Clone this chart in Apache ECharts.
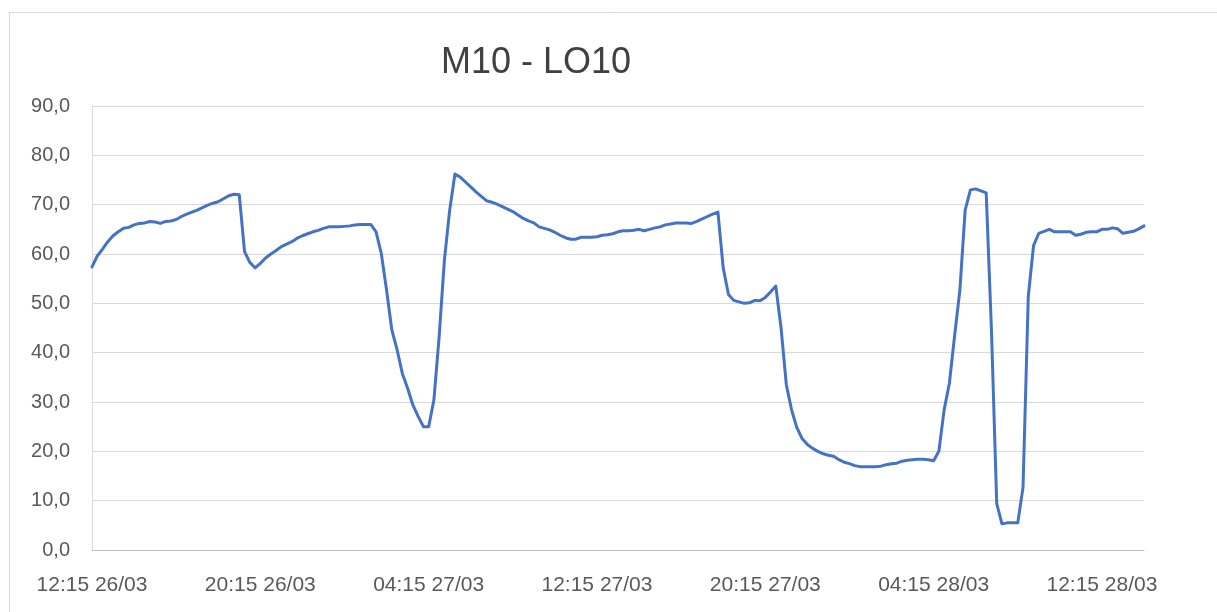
<!DOCTYPE html>
<html>
<head>
<meta charset="utf-8">
<script src="https://cdn.jsdelivr.net/npm/echarts@6/dist/echarts.min.js"></script>
<style>
html,body{margin:0;padding:0;background:#fff;}
#chart{width:1217px;height:612px;}
</style>
</head>
<body>
<div id="chart"></div>
<script>
// Title
const chartTitle = 'M10 - LO10';

// Y-axis tick labels (0 to 90 step 10, decimal comma)
const yTickLabels = ['0,0','10,0','20,0','30,0','40,0','50,0','60,0','70,0','80,0','90,0'];

// Time categories: every 15 minutes from 12:15 26/03 to 14:15 28/03
const startDay = 26, startMonth = 3, startHour = 12, startMinute = 15, stepMinutes = 15, pointCount = 201;
const categories = [];
for (let i = 0; i < pointCount; i++) {
  const total = startHour * 60 + startMinute + i * stepMinutes;
  const day = startDay + Math.floor(total / 1440);
  const mins = total % 1440;
  const hh = String(Math.floor(mins / 60)).padStart(2, '0');
  const mm = String(mins % 60).padStart(2, '0');
  categories.push(hh + ':' + mm + ' ' + String(day).padStart(2, '0') + '/' + String(startMonth).padStart(2, '0'));
}

// Series values
const values = [
  57.4, 59.6, 61.0, 62.5, 63.7, 64.5, 65.2, 65.4, 65.9, 66.2,
  66.3, 66.6, 66.5, 66.2, 66.6, 66.7, 67.0, 67.6, 68.1, 68.5,
  68.9, 69.4, 69.9, 70.3, 70.6, 71.2, 71.8, 72.1, 72.0, 60.5,
  58.3, 57.2, 58.1, 59.2, 60.0, 60.7, 61.5, 62.0, 62.5, 63.2,
  63.7, 64.1, 64.5, 64.8, 65.2, 65.5, 65.5, 65.5, 65.6, 65.7,
  65.9, 66.0, 66.0, 66.0, 64.5, 60.1, 52.7, 44.6, 40.6, 35.8,
  32.8, 29.4, 27.1, 25.0, 25.0, 30.4, 43.3, 58.8, 68.9, 76.2,
  75.6, 74.6, 73.6, 72.6, 71.7, 70.8, 70.5, 70.1, 69.6, 69.1,
  68.6, 67.9, 67.2, 66.7, 66.3, 65.5, 65.2, 64.9, 64.4, 63.8,
  63.3, 63.0, 63.0, 63.4, 63.4, 63.4, 63.5, 63.8, 63.9, 64.1,
  64.5, 64.7, 64.7, 64.8, 65.0, 64.7, 65.0, 65.3, 65.5, 65.9,
  66.1, 66.3, 66.3, 66.3, 66.2, 66.6, 67.1, 67.6, 68.1, 68.5,
  57.2, 51.8, 50.6, 50.3, 50.0, 50.1, 50.6, 50.5, 51.2, 52.3,
  53.5, 45.0, 33.5, 28.4, 24.8, 22.6, 21.4, 20.6, 20.0, 19.5,
  19.2, 19.0, 18.3, 17.8, 17.5, 17.1, 16.9, 16.9, 16.9, 16.9,
  17.0, 17.3, 17.5, 17.6, 18.0, 18.2, 18.3, 18.4, 18.4, 18.3,
  18.1, 20.0, 28.4, 33.8, 43.5, 52.7, 68.9, 73.0, 73.2, 72.8,
  72.4, 44.6, 9.4, 5.3, 5.5, 5.5, 5.5, 12.7, 51.4, 61.7,
  64.2, 64.6, 65.0, 64.5, 64.5, 64.5, 64.5, 63.8, 64.0, 64.4,
  64.5, 64.5, 65.0, 65.0, 65.3, 65.1, 64.2, 64.4, 64.6, 65.1,
  65.7
];

const font = 'Liberation Sans, Arial, sans-serif';
const chart = echarts.init(document.getElementById('chart'), null, {renderer: 'canvas'});
chart.setOption({
  animation: false,
  backgroundColor: '#ffffff',
  graphic: [{
    type: 'rect',
    shape: {x: 9.5, y: 12.5, width: 1400, height: 800},
    style: {fill: 'none', stroke: '#d9d9d9', lineWidth: 1},
    silent: true,
    z: -1
  }],
  title: {
    text: chartTitle,
    left: 436,
    top: 40,
    textStyle: {fontFamily: font, fontSize: 36, fontWeight: 'normal', color: '#404040'}
  },
  grid: {left: 92, right: 73, top: 106, bottom: 62},
  xAxis: {
    type: 'category',
    data: categories,
    boundaryGap: false,
    axisLine: {show: true, lineStyle: {color: '#bfbfbf', width: 1}},
    axisTick: {show: false},
    axisLabel: {
      interval: 31,
      hideOverlap: false,
      margin: 25,
      color: '#595959',
      fontFamily: font,
      fontSize: 21
    },
    splitLine: {show: false}
  },
  yAxis: {
    type: 'value',
    min: 0,
    max: 90,
    interval: 10,
    axisLine: {show: true, lineStyle: {color: '#d9d9d9', width: 1}},
    axisTick: {show: false},
    axisLabel: {
      margin: 22,
      color: '#595959',
      fontFamily: font,
      fontSize: 20,
      formatter: function (v) { return yTickLabels[Math.round(v / 10)]; }
    },
    splitLine: {show: true, lineStyle: {color: '#d9d9d9', width: 1}}
  },
  series: [{
    type: 'line',
    data: values,
    symbol: 'none',
    smooth: false,
    lineStyle: {color: '#4472C4', width: 3, join: 'round', cap: 'round'},
    itemStyle: {color: '#4472C4'}
  }]
});
</script>
</body>
</html>
